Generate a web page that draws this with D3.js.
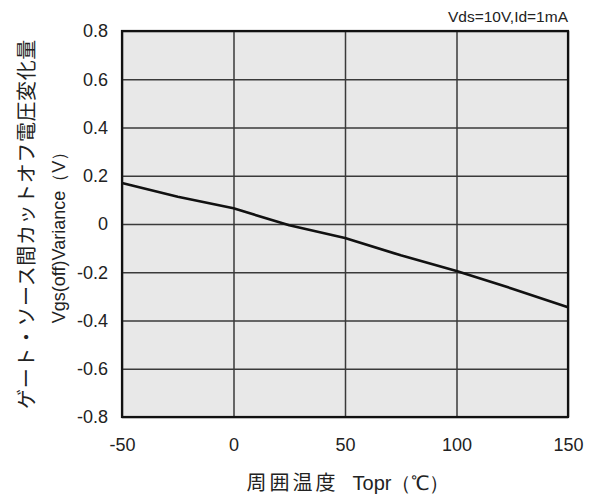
<!DOCTYPE html>
<html>
<head>
<meta charset="utf-8">
<script src="https://cdn.jsdelivr.net/npm/d3@7"></script>
<style>
  html, body { margin: 0; padding: 0; background: #fff; }
  svg { display: block; }
</style>
</head>
<body>
<svg id="chart" width="592" height="497"></svg>
<script>
// Gate-source cutoff voltage variation vs. ambient temperature
const temperatures = [-50, -25, 0, 25, 50, 75, 100, 125, 150];
const vgsOffVariance = [0.17, 0.113, 0.065, -0.005, -0.058, -0.13, -0.195, -0.268, -0.345];
const xTicks = [-50, 0, 50, 100, 150];
const yTicks = [-0.8, -0.6, -0.4, -0.2, 0, 0.2, 0.4, 0.6, 0.8];
const conditionText = "Vds=10V,Id=1mA";
const xTitleJa = "周囲温度";
const xTitleEn = "Topr（℃）";
const yTitleJa = "ゲート・ソース間カットオフ電圧変化量";
const yTitleEn = "Vgs(off)Variance（V）";

const svg = d3.select("#chart");
const margin = { left: 122, right: 24, top: 31, bottom: 80 };
const W = 592, H = 497;
const x0 = margin.left, x1 = W - margin.right;
const y0 = H - margin.bottom, y1 = margin.top;

const x = d3.scaleLinear().domain([-50, 150]).range([x0, x1]);
const y = d3.scaleLinear().domain([-0.8, 0.8]).range([y0, y1]);

const latin = "'Liberation Sans', Arial, sans-serif";
const cjk = "'Noto Sans CJK JP', 'Liberation Sans', sans-serif";
const textColor = "#222";

// plain hyphen-minus for negative tick labels
const fmtY = d => d === 0 ? "0" : d.toFixed(1);
const fmtX = d => String(d);

// plot background
svg.append("rect")
  .attr("x", x0).attr("y", y1)
  .attr("width", x1 - x0).attr("height", y0 - y1)
  .attr("fill", "#e8e8e8");

// horizontal grid + y tick labels
const yAxis = svg.append("g")
  .attr("transform", `translate(${x0},0)`)
  .call(d3.axisLeft(y).tickValues(yTicks)
    .tickSizeInner(-(x1 - x0)).tickSizeOuter(0).tickPadding(14)
    .tickFormat(fmtY));
yAxis.select(".domain").remove();
yAxis.selectAll(".tick line").attr("stroke", "#3a3a3a").attr("stroke-width", 1.5);
yAxis.selectAll(".tick text")
  .attr("fill", textColor).attr("font-family", latin).attr("font-size", 18);

// vertical grid + x tick labels
const xAxis = svg.append("g")
  .attr("transform", `translate(0,${y0})`)
  .call(d3.axisBottom(x).tickValues(xTicks)
    .tickSizeInner(-(y0 - y1)).tickSizeOuter(0).tickPadding(21)
    .tickFormat(fmtX));
xAxis.select(".domain").remove();
xAxis.selectAll(".tick line").attr("stroke", "#3a3a3a").attr("stroke-width", 1.5);
xAxis.selectAll(".tick text")
  .attr("fill", textColor).attr("font-family", latin).attr("font-size", 18);

// plot frame
svg.append("rect")
  .attr("x", x0).attr("y", y1)
  .attr("width", x1 - x0).attr("height", y0 - y1)
  .attr("fill", "none").attr("stroke", "#111").attr("stroke-width", 2.2);

// characteristic curve
const line = d3.line().x((d, i) => x(temperatures[i])).y(d => y(d));
svg.append("path")
  .datum(vgsOffVariance)
  .attr("d", line)
  .attr("fill", "none")
  .attr("stroke", "#111")
  .attr("stroke-width", 2.6)
  .attr("stroke-linejoin", "round");

// measurement condition
svg.append("text")
  .attr("x", x1).attr("y", 22)
  .attr("text-anchor", "end")
  .attr("font-family", latin).attr("font-size", 15.5)
  .attr("fill", textColor)
  .text(conditionText);

// x axis title
const xt = svg.append("text")
  .attr("x", (x0 + x1) / 2 + 3).attr("y", 490)
  .attr("text-anchor", "middle")
  .attr("fill", textColor);
xt.append("tspan").attr("font-family", cjk).attr("font-size", 20)
  .attr("letter-spacing", 3).text(xTitleJa);
xt.append("tspan").attr("font-family", latin).attr("font-size", 20)
  .attr("dx", 14).text(xTitleEn);

// y axis titles (rotated)
svg.append("text")
  .attr("transform", `translate(25,${(y0 + y1) / 2}) rotate(-90)`)
  .attr("text-anchor", "middle")
  .attr("dominant-baseline", "central")
  .attr("font-family", cjk).attr("font-size", 20)
  .attr("letter-spacing", 0.6)
  .attr("fill", textColor)
  .text(yTitleJa);

svg.append("text")
  .attr("transform", `translate(59,233) rotate(-90)`)
  .attr("text-anchor", "middle")
  .attr("dominant-baseline", "central")
  .attr("font-family", latin).attr("font-size", 18)
  .attr("fill", textColor)
  .text(yTitleEn);
</script>
</body>
</html>
